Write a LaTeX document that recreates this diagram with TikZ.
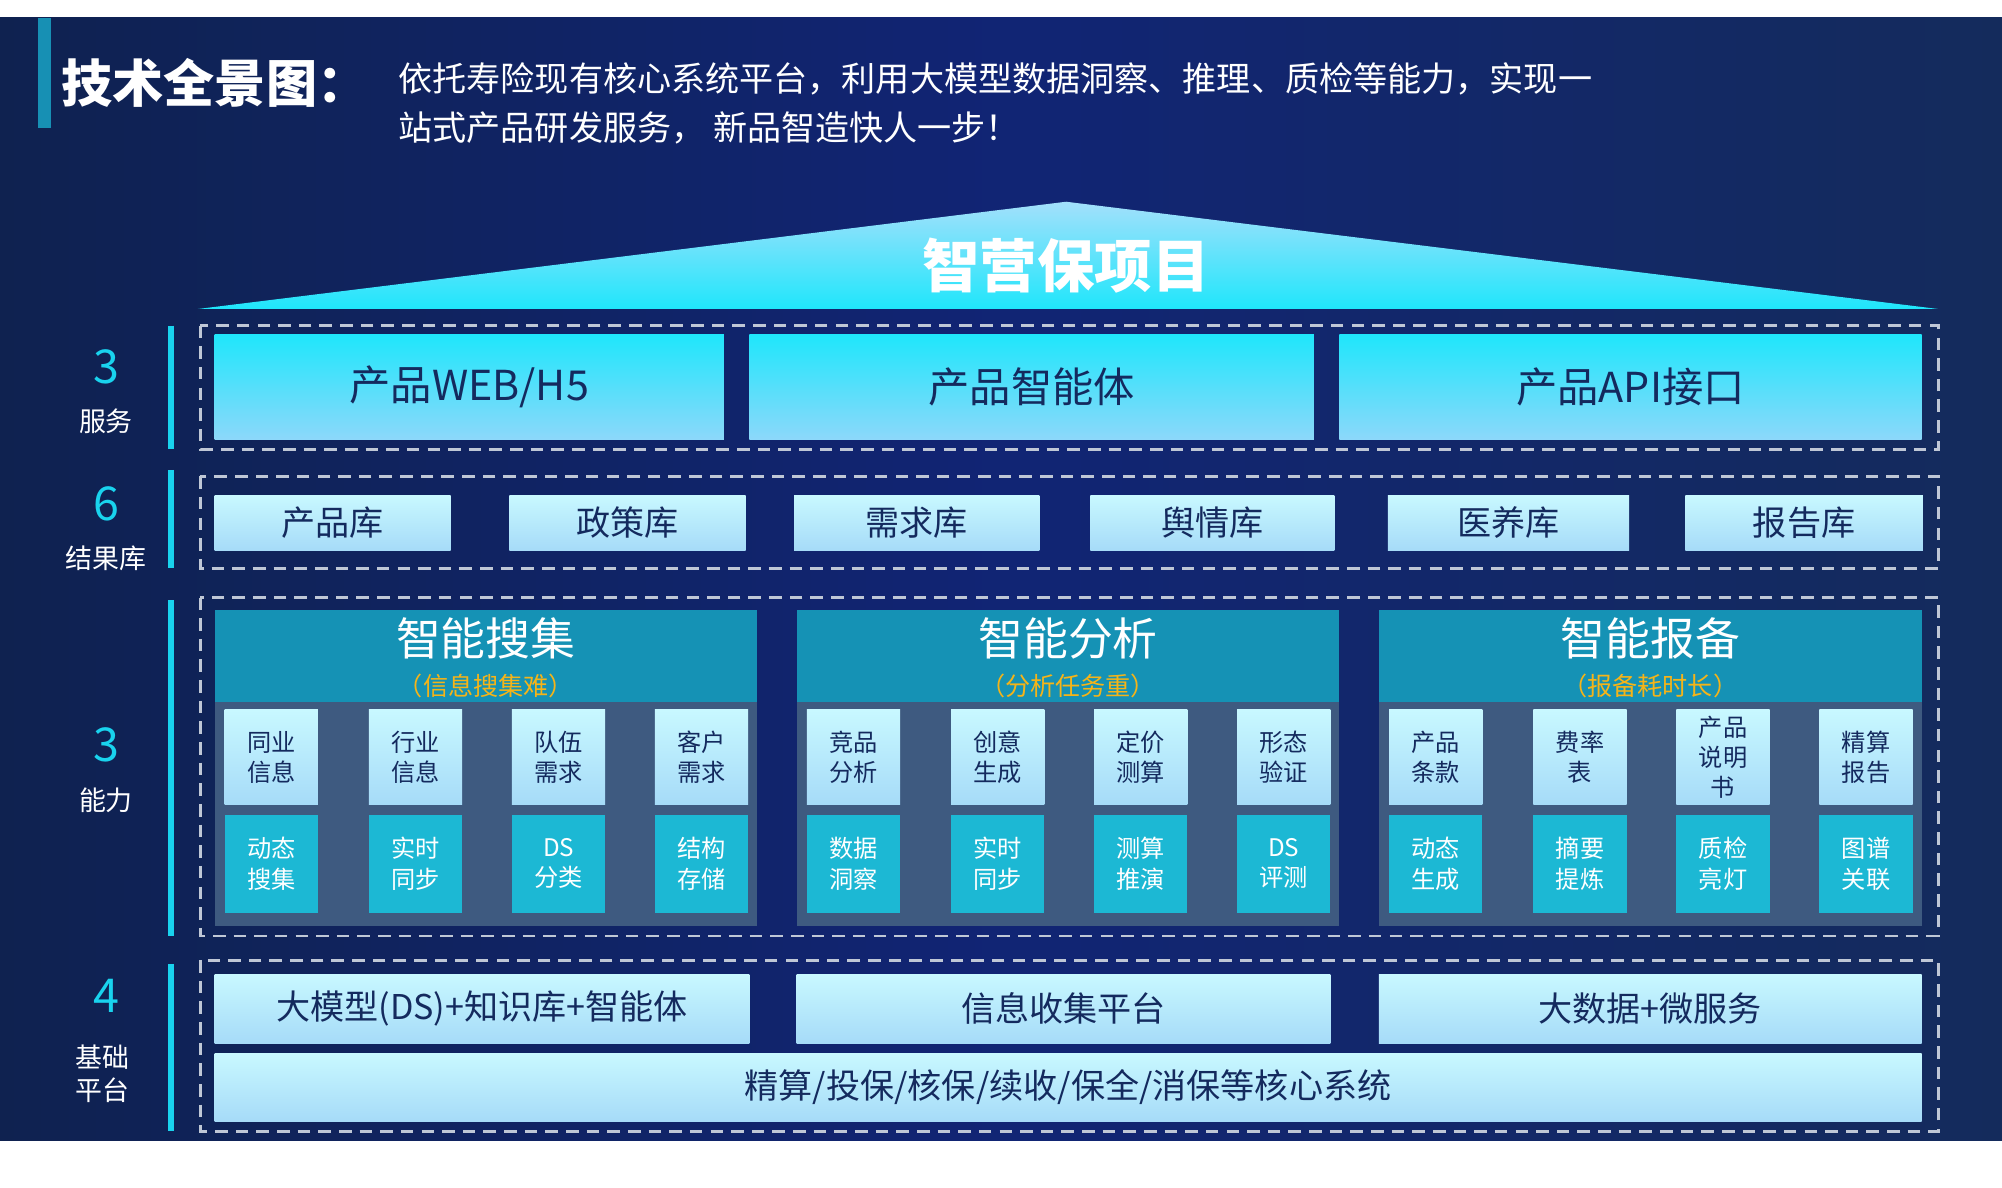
\documentclass[tikz,border=0pt]{standalone}
\usepackage{fontspec}
\setmainfont{Noto Sans CJK SC}
\usetikzlibrary{positioning}
\definecolor{bgnavy}{HTML}{142B5C}
\definecolor{bgdeep}{HTML}{0F2250}
\definecolor{inkblue}{HTML}{142A5E}
\definecolor{cyanhi}{HTML}{1FE6FB}
\definecolor{cyanlo}{HTML}{8CD8FA}
\definecolor{paletop}{HTML}{C8F8FF}
\definecolor{palebot}{HTML}{A6DBF8}
\definecolor{headteal}{HTML}{1592B5}
\definecolor{bodygray}{HTML}{3E5A80}
\definecolor{subcyan}{HTML}{1CB8D4}
\definecolor{dashgray}{HTML}{BFC7D6}
\definecolor{accent}{HTML}{19D3EE}
\definecolor{orangetx}{HTML}{F5B418}
\newcommand\fs[1]{\fontsize{#1}{\dimexpr #1*5/4\relax}\selectfont}

\begin{document}
\begin{tikzpicture}[x=0.05cm,y=-0.05cm,
svcbox/.style={inner sep=0,top color=cyanhi,bottom color=cyanlo,text=inkblue,font=\fs{46pt}},
libbox/.style={inner sep=0,top color=paletop,bottom color=palebot,text=inkblue,font=\fs{38pt},minimum height=43*0.05cm},
layer/.style={draw=dashgray,dash pattern=on 14pt off 9pt,line width=3pt},
headbox/.style={inner sep=0,fill=headteal,minimum width=425*0.05cm,minimum height=72*0.05cm},
bodybox/.style={inner sep=0,fill=bodygray,minimum width=425*0.05cm,minimum height=175*0.05cm},
upbox/.style={inner sep=0,top color=paletop,bottom color=palebot,text=inkblue,minimum width=73*0.05cm,minimum height=74*0.05cm,align=center,font=\fs{27pt}},
lowbox/.style={inner sep=0,fill=subcyan,text=white,minimum width=73*0.05cm,minimum height=77*0.05cm,align=center,font=\fs{27pt}},
basebox/.style={inner sep=0,top color=paletop,bottom color=palebot,text=inkblue,font=\fs{38pt}},
num/.style={text=accent,font=\fs{52pt}},
tag/.style={text=white,font=\fs{30pt},align=center}]
\useasboundingbox (0,0) rectangle (1568,930);
\fill[white] (0,0) rectangle (1568,930);
\fill[left color=bgdeep,right color=bgnavy,middle color=bgnavy!85!blue] (0,14) rectangle (1568,893);
\fill[accent!60!bgnavy] (30,14) rectangle (40,100);

% title
\node (title) [anchor=west,text=white,font=\fs{57pt}\bfseries,inner sep=0] at (48,65) {技术全景图：};
\node (sub1) [anchor=west,text=white,font=\fs{38pt},inner sep=0] at (312,62) {依托寿险现有核心系统平台，利用大模型数据洞察、推理、质检等能力，实现一};
\node (sub2) [anchor=west,text=white,font=\fs{38pt},inner sep=0] at (312,100) {站式产品研发服务， 新品智造快人一步！};

% roof
\shade[top color=cyanlo!80!white,bottom color=cyanhi] (835,158) -- (1518,242) -- (155,242) -- cycle;
\node (roof) [text=white,font=\fs{64pt}\bfseries] at (835,208) {智营保项目};

% layer 1: services
\draw[layer] (157,255) rectangle (1518,352);
\node (web) [svcbox,minimum width=399*0.05cm,minimum height=82*0.05cm] at (367.5,303) {产品WEB/H5};
\node (agent) [svcbox,minimum width=442*0.05cm,minimum height=82*0.05cm] at (808,303) {产品智能体};
\node (api) [svcbox,minimum width=456*0.05cm,minimum height=82*0.05cm] at (1277,303) {产品API接口};

% layer 2: result libraries
\draw[layer] (157,373) rectangle (1518,445);
\foreach \cx/\w/\t [count=\n] in {260.5/185/产品库,491.5/185/政策库,718/192/需求库,949.5/191/舆情库,1181.5/189/医养库,1413/186/报告库}
  \node (lib\n) [libbox,minimum width=\w*0.05cm] at (\cx,409.5) {\t};

% layer 3: capabilities
\draw[layer] (157,468) rectangle (1518,733);
\foreach \cx/\ttl/\why/\a/\b/\c/\d/\e/\f/\g/\h [count=\n] in {
  380.5/智能搜集/信息搜集难/{同业\\信息}/{行业\\信息}/{队伍\\需求}/{客户\\需求}/{动态\\搜集}/{实时\\同步}/{DS\\分类}/{结构\\存储},
  836.5/智能分析/分析任务重/{竞品\\分析}/{创意\\生成}/{定价\\测算}/{形态\\验证}/{数据\\洞察}/{实时\\同步}/{测算\\推演}/{DS\\评测},
  1292.5/智能报备/报备耗时长/{产品\\条款}/{费率\\表}/{产品\\说明\\书}/{精算\\报告}/{动态\\生成}/{摘要\\提炼}/{质检\\亮灯}/{图谱\\关联}} {
  \node (head\n) [headbox] at (\cx,514) {};
  \node (body\n) [bodybox] at (\cx,637.5) {};
  \node (name\n) [text=white,font=\fs{50pt}] at (\cx,500) {\ttl};
  \node (why\n) [text=orangetx,font=\fs{28pt}] at (\cx,537) {（\why）};
  \node (up\n-1) [upbox] at (\cx-168,593) {\a};
  \node (up\n-2) [upbox] at (\cx-55,593) {\b};
  \node (up\n-3) [upbox] at (\cx+57,593) {\c};
  \node (up\n-4) [upbox] at (\cx+169,593) {\d};
  \node (low\n-1) [lowbox] at (\cx-168,676.5) {\e};
  \node (low\n-2) [lowbox] at (\cx-55,676.5) {\f};
  \node (low\n-3) [lowbox] at (\cx+57,676.5) {\g};
  \node (low\n-4) [lowbox] at (\cx+169,676.5) {\h};
}

% layer 4: base platform
\draw[layer] (157,752) rectangle (1518,886);
\node (llm) [basebox,minimum width=419*0.05cm,minimum height=54*0.05cm] at (377.5,790) {大模型(DS)+知识库+智能体};
\node (collect) [basebox,minimum width=418*0.05cm,minimum height=54*0.05cm] at (833,790) {信息收集平台};
\node (bigdata) [basebox,minimum width=425*0.05cm,minimum height=54*0.05cm] at (1292.5,790) {大数据+微服务};
\node (core) [basebox,minimum width=1337*0.05cm,minimum height=53*0.05cm] at (836.5,851.5) {精算/投保/核保/续收/保全/消保等核心系统};

% left labels
\foreach \ya/\yb in {255/352,368/445,470/733,755/886}
  \draw[accent,line width=6pt] (134,\ya) -- (134,\yb);
\node (n1) [num] at (83,287) {3};
\node (t1) [tag] at (83,330) {服务};
\node (n2) [num] at (83,395) {6};
\node (t2) [tag] at (83,437) {结果库};
\node (n3) [num] at (83,583) {3};
\node (t3) [tag] at (83,627) {能力};
\node (n4) [num] at (83,780) {4};
\node (t4) [tag] at (80,841) {基础\\平台};
\end{tikzpicture}
\end{document}
